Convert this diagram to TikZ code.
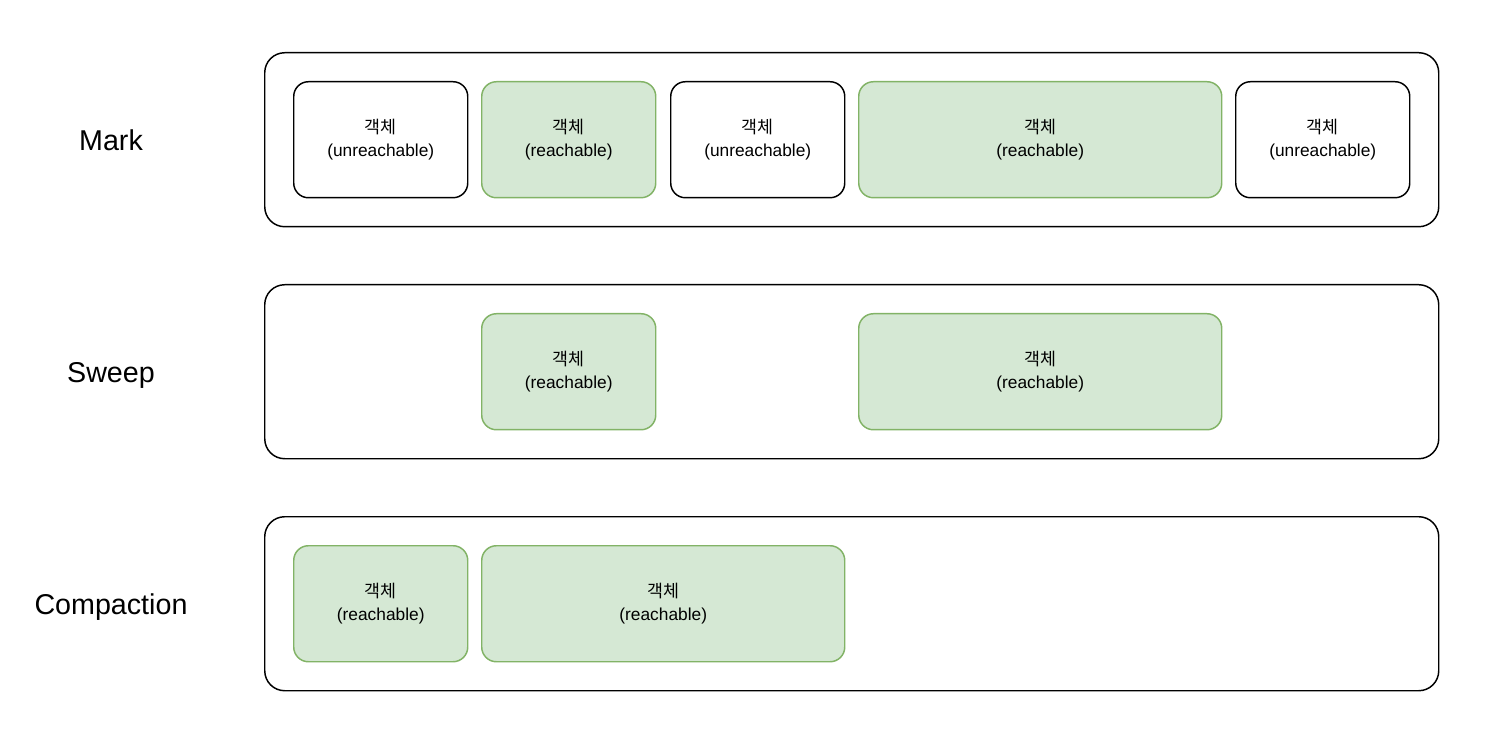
\documentclass[tikz,border=0pt]{standalone}
\usepackage{fontspec}
\setmainfont{Liberation Sans}
\newfontfamily\kr{Noto Sans CJK KR}
\definecolor{gfill}{HTML}{D5E8D4}
\definecolor{gline}{HTML}{82B366}
\begin{document}
\begin{tikzpicture}[x=0.75pt,y=-0.75pt,
  frame/.style={draw=black,line width=1.1pt,rounded corners=15pt,inner sep=0pt,
    minimum width=880.5pt,minimum height=130.5pt,anchor=north west},
  obj/.style={draw=black,line width=1.1pt,rounded corners=11pt,inner sep=0pt,
    align=center,font=\fontsize{13}{17.25}\selectfont,
    minimum width=130.5pt,minimum height=87pt,anchor=north west},
  wide/.style={minimum width=272.25pt},
  reach/.style={obj,draw=gline,fill=gfill},
  phase/.style={font=\fontsize{21.5}{26}\selectfont,text height=15.5pt,text depth=0pt}]
\useasboundingbox (0,0) rectangle (1485,741);
\fill[white] (0,0) rectangle (1485,741);
% phase labels
\node[phase] (lmark) at (111,140) {Mark};
\node[phase] (lsweep) at (111,372) {Sweep};
\node[phase] (lcomp) at (111,604) {Compaction};
% frames
\node[frame] (fmark) at (264,52) {};
\node[frame] (fsweep) at (264,284) {};
\node[frame] (fcomp) at (264,516) {};
% Mark row
\node[obj] (m1) at (293,81) {{\kr 객체}\\(unreachable)};
\node[reach] (m2) at (481,81) {{\kr 객체}\\(reachable)};
\node[obj] (m3) at (670,81) {{\kr 객체}\\(unreachable)};
\node[reach,wide] (m4) at (858,81) {{\kr 객체}\\(reachable)};
\node[obj] (m5) at (1235,81) {{\kr 객체}\\(unreachable)};
% Sweep row
\node[reach] (s2) at (481,313) {{\kr 객체}\\(reachable)};
\node[reach,wide] (s4) at (858,313) {{\kr 객체}\\(reachable)};
% Compaction row
\node[reach] (c1) at (293,545) {{\kr 객체}\\(reachable)};
\node[reach,wide] (c2) at (481,545) {{\kr 객체}\\(reachable)};
\end{tikzpicture}
\end{document}
